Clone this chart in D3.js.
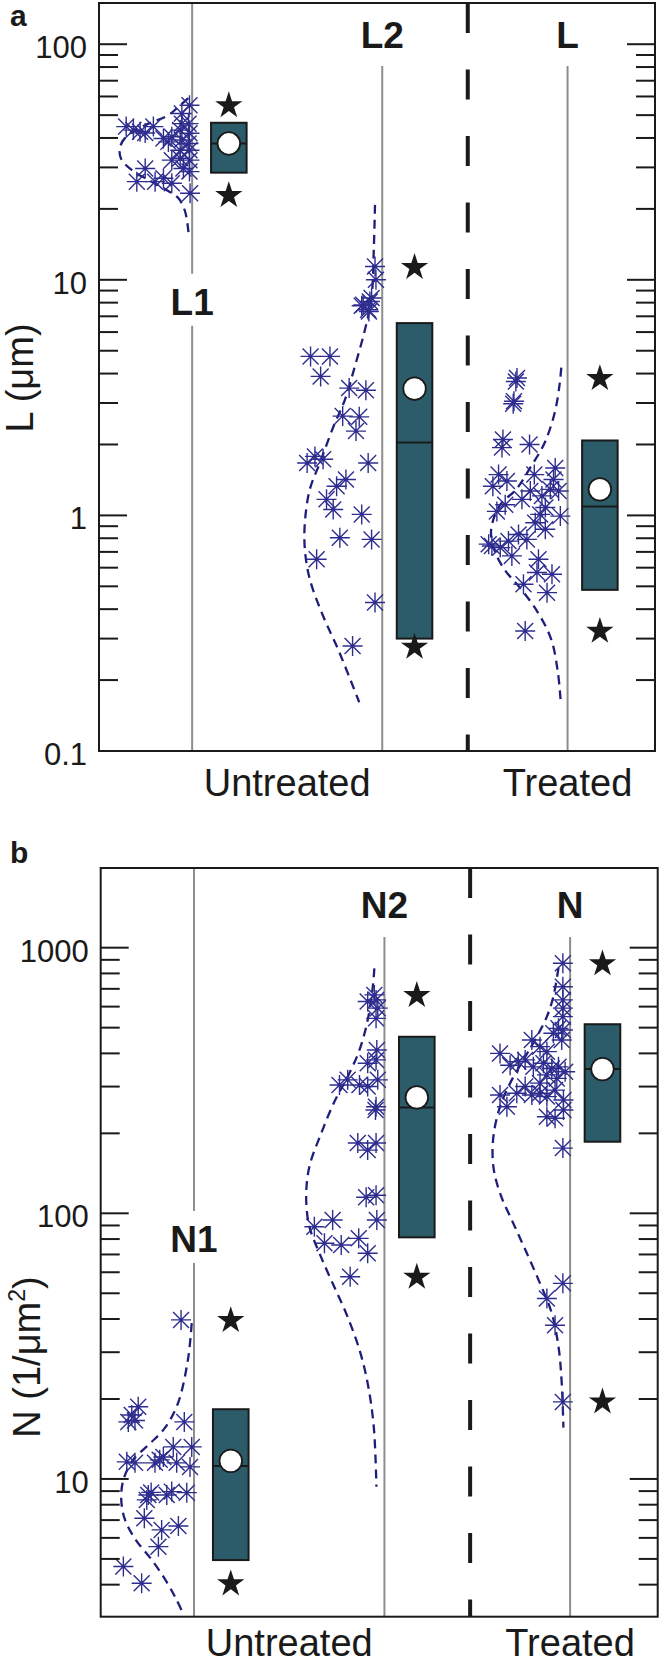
<!DOCTYPE html>
<html><head><meta charset="utf-8">
<script src="https://cdn.jsdelivr.net/npm/d3@7"></script>
<style>
body{margin:0;background:#fff}
svg{display:block}
text{font-family:"Liberation Sans",Arial,Helvetica,sans-serif;fill:#1a1a1a}
</style>
</head><body>
<svg id="c" width="662" height="1665"></svg>
<script>
// ---------------- DATA ----------------
const groupPos = [1, 2, 2.975];      // x positions of the three groups
const dividerPos = 2.45;             // dashed divider between untreated / treated
const boxOffset = [0.193, 0.170, 0.170];
const xCategories = ["Untreated", "Treated"];

// Panel a : L (µm)
const namesA = ["L1", "L2", "L"];
const q1A   = [28.5, 0.300, 0.483];
const medA  = [37.9, 2.04, 1.09];
const q3A   = [46.4, 6.55, 2.08];
const meanA = [37.9, 3.45, 1.29];
const starHiA = [54.9, 11.3, 3.81];
const starLoA = [22.8, 0.276, 0.3225];
const tickValuesA = [0.1, 1, 10, 100];
const tickLabelsA = ["0.1", "1", "10", "100"];

// points: [x offset from group line, value]
const pointsL1 = [[-0.014,55.1],[-0.054,50.8],[-0.347,44.7],[-0.309,43.2],[-0.274,42.5],[-0.247,42.0],[-0.204,44.7],[-0.151,39.8],[-0.125,38.5],[-0.107,40.5],[-0.063,43.2],[-0.019,46.0],[-0.014,41.9],[-0.054,39.2],[-0.019,37.9],[-0.063,35.5],[-0.107,32.2],[-0.063,32.8],[-0.014,32.2],[-0.046,29.7],[-0.014,28.8],[-0.247,29.7],[-0.291,26.1],[-0.195,26.1],[-0.151,27.0],[-0.107,25.7],[-0.011,23.3],[-0.014,35.5],[-0.054,46.0]];
const pointsL2 = [[-0.038,11.39],[-0.033,10.0],[-0.056,8.37],[-0.100,7.83],[-0.074,7.46],[-0.108,7.76],[-0.065,8.09],[-0.070,7.34],[-0.377,4.73],[-0.275,4.73],[-0.324,3.89],[-0.174,3.47],[-0.086,3.40],[-0.208,2.64],[-0.121,2.62],[-0.138,2.28],[-0.395,1.67],[-0.354,1.78],[-0.311,1.73],[-0.074,1.67],[-0.191,1.42],[-0.240,1.33],[-0.293,1.17],[-0.258,1.06],[-0.108,1.01],[-0.223,0.804],[-0.056,0.791],[-0.345,0.651],[-0.038,0.427],[-0.156,0.279]];
const pointsL = [[-0.266,3.83],[-0.272,3.70],[-0.282,3.05],[-0.286,2.98],[-0.340,2.10],[-0.345,1.94],[-0.200,2.00],[-0.363,1.49],[-0.319,1.40],[-0.393,1.33],[-0.175,1.49],[-0.065,1.59],[-0.074,1.42],[-0.196,1.27],[-0.135,1.21],[-0.091,1.29],[-0.047,1.27],[-0.240,1.17],[-0.328,1.11],[-0.372,1.04],[-0.117,1.08],[-0.144,1.01],[-0.038,0.993],[-0.170,0.931],[-0.117,0.873],[-0.398,0.741],[-0.354,0.730],[-0.311,0.778],[-0.258,0.830],[-0.214,0.791],[-0.293,0.673],[-0.153,0.651],[-0.161,0.572],[-0.082,0.563],[-0.232,0.510],[-0.108,0.470],[-0.223,0.323],[-0.415,0.755]];

// density curves: [x offset, value]
const curveL1 = [[-0.02,59.0],[-0.063,55.1],[-0.125,50.0],[-0.247,45.3],[-0.347,40.5],[-0.379,36.6],[-0.375,32.8],[-0.317,29.2],[-0.221,26.3],[-0.133,24.0],[-0.072,22.2],[-0.037,19.5],[-0.019,15.8]];
const curveL2 = [[-0.038,20.8],[-0.044,13.8],[-0.056,8.5],[-0.091,6.14],[-0.144,4.29],[-0.196,3.10],[-0.256,2.39],[-0.328,1.67],[-0.381,1.29],[-0.407,0.931],[-0.407,0.718],[-0.381,0.536],[-0.311,0.374],[-0.232,0.270],[-0.121,0.161]];
const curveL = [[-0.033,4.24],[-0.042,3.59],[-0.068,2.72],[-0.121,2.03],[-0.191,1.62],[-0.270,1.29],[-0.354,1.11],[-0.402,0.873],[-0.386,0.718],[-0.332,0.590],[-0.244,0.486],[-0.156,0.387],[-0.086,0.298],[-0.051,0.216],[-0.037,0.166]];

// Panel b : N (1/µm²)
const namesB = ["N1", "N2", "N"];
const q1B   = [4.95, 81.2, 186];
const medB  = [11.2, 250, 349];
const q3B   = [18.3, 462, 515];
const meanB = [11.7, 273, 349];
const starHiB = [39.5, 661, 870];
const starLoB = [4.03, 57.5, 19.5];
const tickValuesB = [10, 100, 1000];
const tickLabelsB = ["10", "100", "1000"];

const pointsN1 = [[-0.068,39.7],[-0.293,18.7],[-0.327,17.4],[-0.345,16.4],[-0.310,16.6],[-0.051,16.4],[-0.353,11.6],[-0.310,11.5],[-0.205,11.5],[-0.161,12.1],[-0.109,13.2],[-0.091,11.5],[-0.012,13.2],[-0.021,11.1],[-0.240,8.70],[-0.248,8.34],[-0.225,8.9],[-0.143,8.70],[-0.117,8.96],[-0.038,8.88],[-0.261,7.11],[-0.082,6.65],[-0.170,6.43],[-0.187,5.56],[-0.371,4.68],[-0.275,4.05],[-0.180,11.8]];
const pointsN2 = [[-0.053,664],[-0.088,627],[-0.044,636],[-0.035,592],[-0.044,542],[-0.040,412],[-0.044,378],[-0.088,367],[-0.035,318],[-0.236,304],[-0.193,318],[-0.131,304],[-0.088,300],[-0.044,252],[-0.047,245],[-0.140,184],[-0.088,173],[-0.044,184],[-0.096,115],[-0.044,117],[-0.368,89.0],[-0.272,94.4],[-0.040,94.4],[-0.315,77.1],[-0.227,76.0],[-0.135,80.5],[-0.088,70.7],[-0.180,57.7]];
const pointsN = [[-0.038,874],[-0.038,713],[-0.038,636],[-0.038,592],[-0.038,550],[-0.061,497],[-0.038,490],[-0.088,476],[-0.044,449],[-0.201,449],[-0.158,424],[-0.122,406],[-0.368,400],[-0.315,361],[-0.272,372],[-0.236,378],[-0.193,356],[-0.140,367],[-0.096,351],[-0.061,356],[-0.026,341],[-0.122,332],[-0.070,322],[-0.158,309],[-0.368,279],[-0.332,252],[-0.280,283],[-0.236,300],[-0.201,279],[-0.158,283],[-0.122,275],[-0.079,291],[-0.035,267],[-0.035,245],[-0.122,231],[-0.079,228],[-0.038,176],[-0.038,54.5],[-0.122,47.8],[-0.079,37.9],[-0.038,19.5]];

const curveN1 = [[-0.012,38.6],[-0.032,28.1],[-0.084,19.3],[-0.152,15.6],[-0.231,13.6],[-0.320,11.8],[-0.371,9.91],[-0.382,8.34],[-0.362,7.01],[-0.305,5.89],[-0.221,4.95],[-0.143,4.09],[-0.091,3.50],[-0.056,3.10]];
const curveN2 = [[-0.053,836],[-0.061,713],[-0.088,534],[-0.131,412],[-0.193,327],[-0.263,263],[-0.332,200],[-0.394,150],[-0.411,115],[-0.394,89],[-0.341,70.7],[-0.272,54.5],[-0.201,42.0],[-0.131,30.6],[-0.088,22.9],[-0.056,15.7],[-0.042,9.35]];
const curveN = [[-0.061,839],[-0.088,654],[-0.122,550],[-0.175,462],[-0.245,378],[-0.315,309],[-0.368,252],[-0.403,194],[-0.403,150],[-0.368,119],[-0.298,91.6],[-0.227,70.7],[-0.158,54.5],[-0.096,42.0],[-0.061,31.5],[-0.045,23.6],[-0.035,15.6]];

// ---------------- DRAWING ----------------
const svg = d3.select("#c");
const INK = "#1a1a1a", MARK = "#2e2d8f", CURVE = "#1e1e7a", BOXFILL = "#2c5c6a", GRAY = "#8e8e8e";

function asteriskPath(r){
  const d = r * 0.8;
  return `M${-r},0H${r}M0,${-r}V${r}M${-d},${-d}L${d},${d}M${-d},${d}L${d},${-d}`;
}

function drawPanel(c){
  const g = svg.append("g");
  const x = d3.scaleLinear().domain([0.51, 3.435]).range([c.left, c.right]);
  const y = d3.scaleLog().domain(c.domain).range([c.bottom, c.top]);

  const topBase = c.top + c.topLabelDy;
  const grayStart = topBase + c.grayGap;
  const lowBase = y(c.lowLabelValue);

  // grey group lines
  groupPos.forEach((p, i) => {
    if (i === 0) {
      g.append("line").attr("x1", x(p)).attr("x2", x(p)).attr("y1", c.top).attr("y2", lowBase - 41)
        .attr("stroke", GRAY).attr("stroke-width", 2);
      g.append("line").attr("x1", x(p)).attr("x2", x(p)).attr("y1", lowBase + 11).attr("y2", c.bottom)
        .attr("stroke", GRAY).attr("stroke-width", 2);
    } else {
      g.append("line").attr("x1", x(p)).attr("x2", x(p)).attr("y1", grayStart).attr("y2", c.bottom)
        .attr("stroke", GRAY).attr("stroke-width", 2);
    }
  });

  // dashed divider
  g.append("line").attr("x1", x(dividerPos)).attr("x2", x(dividerPos))
    .attr("y1", c.top).attr("y2", c.bottom)
    .attr("stroke", INK).attr("stroke-width", 4).attr("stroke-dasharray", "30 36.5");

  // density curves
  const line = d3.line().x(d => d[2]).y(d => y(d[1])).curve(d3.curveCatmullRom.alpha(0.5));
  c.curves.forEach((cv, i) => {
    const pts = cv.map(d => [d[0], d[1], x(groupPos[i] + d[0])]);
    g.append("path").attr("d", line(pts)).attr("fill", "none")
      .attr("stroke", CURVE).attr("stroke-width", 2.3).attr("stroke-dasharray", "9 6");
  });

  // points
  c.points.forEach((pts, i) => {
    g.append("g").selectAll("path").data(pts).join("path")
      .attr("d", asteriskPath(10))
      .attr("transform", d => `translate(${x(groupPos[i] + d[0])},${y(d[1])})`)
      .attr("fill", "none").attr("stroke", MARK).attr("stroke-width", 1.4);
  });

  // boxes
  const bw = 0.187;
  groupPos.forEach((p, i) => {
    const cx = p + boxOffset[i];
    g.append("rect").attr("x", x(cx - bw/2)).attr("width", x(cx + bw/2) - x(cx - bw/2))
      .attr("y", y(c.q3[i])).attr("height", y(c.q1[i]) - y(c.q3[i]))
      .attr("fill", BOXFILL).attr("stroke", INK).attr("stroke-width", 2);
    g.append("line").attr("x1", x(cx - bw/2)).attr("x2", x(cx + bw/2))
      .attr("y1", y(c.med[i])).attr("y2", y(c.med[i])).attr("stroke", INK).attr("stroke-width", 2);
    g.append("circle").attr("cx", x(cx)).attr("cy", y(c.mean[i])).attr("r", 11.3)
      .attr("fill", "#fff").attr("stroke", INK).attr("stroke-width", 1.8);
    const star = d3.symbol(d3.symbolStar, 230);
    [c.starHi[i], c.starLo[i]].forEach(v => {
      g.append("path").attr("d", star()).attr("transform", `translate(${x(cx)},${y(v)})`)
        .attr("fill", INK);
    });
  });

  // frame
  g.append("rect").attr("x", c.left).attr("y", c.top).attr("width", c.right - c.left)
    .attr("height", c.bottom - c.top).attr("fill", "none").attr("stroke", INK).attr("stroke-width", 2);

  // ticks
  const ticks = y.ticks().filter(t => t > c.domain[0] * 1.0001 && t < c.domain[1] * 0.9999 || t === c.domain[0]);
  ticks.forEach(t => {
    const major = Math.abs(Math.log10(t) - Math.round(Math.log10(t))) < 1e-6;
    const len = major ? 28 : 19;
    const yy = y(t);
    g.append("line").attr("x1", c.left).attr("x2", c.left + len).attr("y1", yy).attr("y2", yy)
      .attr("stroke", INK).attr("stroke-width", 2);
    g.append("line").attr("x1", c.right - len).attr("x2", c.right).attr("y1", yy).attr("y2", yy)
      .attr("stroke", INK).attr("stroke-width", 2);
  });
  c.tickValues.forEach((t, i) => {
    g.append("text").attr("x", c.left - 12).attr("y", y(t) + 14).attr("text-anchor", "end")
      .attr("font-size", 31).text(c.tickLabels[i]);
  });

  // group labels
  c.names.forEach((n, i) => {
    g.append("text").attr("x", x(groupPos[i])).attr("y", i === 0 ? lowBase : topBase)
      .attr("text-anchor", "middle").attr("font-size", 37).attr("font-weight", "bold").text(n);
  });

  // x category labels
  g.append("text").attr("x", x((groupPos[0] + groupPos[1]) / 2)).attr("y", c.xTitleBase)
    .attr("text-anchor", "middle").attr("font-size", 38).text(xCategories[0]);
  g.append("text").attr("x", x(groupPos[2])).attr("y", c.xTitleBase)
    .attr("text-anchor", "middle").attr("font-size", 38).text(xCategories[1]);

  // y title
  const yt = g.append("text").attr("transform", `translate(${c.yTitleX},${c.yTitleCenter}) rotate(-90)`)
    .attr("text-anchor", "middle").attr("font-size", 38);
  c.yTitle(yt);

  // panel letter
  g.append("text").attr("x", 10).attr("y", c.letterY).attr("font-size", 30).attr("font-weight", "bold").text(c.letter);
}

drawPanel({
  left: 99, right: 655, top: 3, bottom: 751, domain: [0.1, 149.6],
  names: namesA, points: [pointsL1, pointsL2, pointsL], curves: [curveL1, curveL2, curveL],
  q1: q1A, med: medA, q3: q3A, mean: meanA, starHi: starHiA, starLo: starLoA,
  tickValues: tickValuesA, tickLabels: tickLabelsA,
  topLabelDy: 45, grayGap: 18, lowLabelValue: 7.11,
  xTitleBase: 796, yTitleX: 33, yTitleCenter: 378,
  yTitle: t => t.text("L (μm)"), letter: "a", letterY: 26
});

drawPanel({
  left: 100.7, right: 657.7, top: 868, bottom: 1616.7, domain: [3.03, 1995],
  names: namesB, points: [pointsN1, pointsN2, pointsN], curves: [curveN1, curveN2, curveN],
  q1: q1B, med: medB, q3: q3B, mean: meanB, starHi: starHiB, starLo: starLoB,
  tickValues: tickValuesB, tickLabels: tickLabelsB,
  topLabelDy: 50, grayGap: 19, lowLabelValue: 71.5,
  xTitleBase: 1656, yTitleX: 40, yTitleCenter: 1357,
  yTitle: t => {
    t.append("tspan").text("N (1/μm");
    t.append("tspan").attr("font-size", 23).attr("dy", -15).text("2");
    t.append("tspan").attr("dy", 15).text(")");
  },
  letter: "b", letterY: 863
});
</script>
</body></html>
